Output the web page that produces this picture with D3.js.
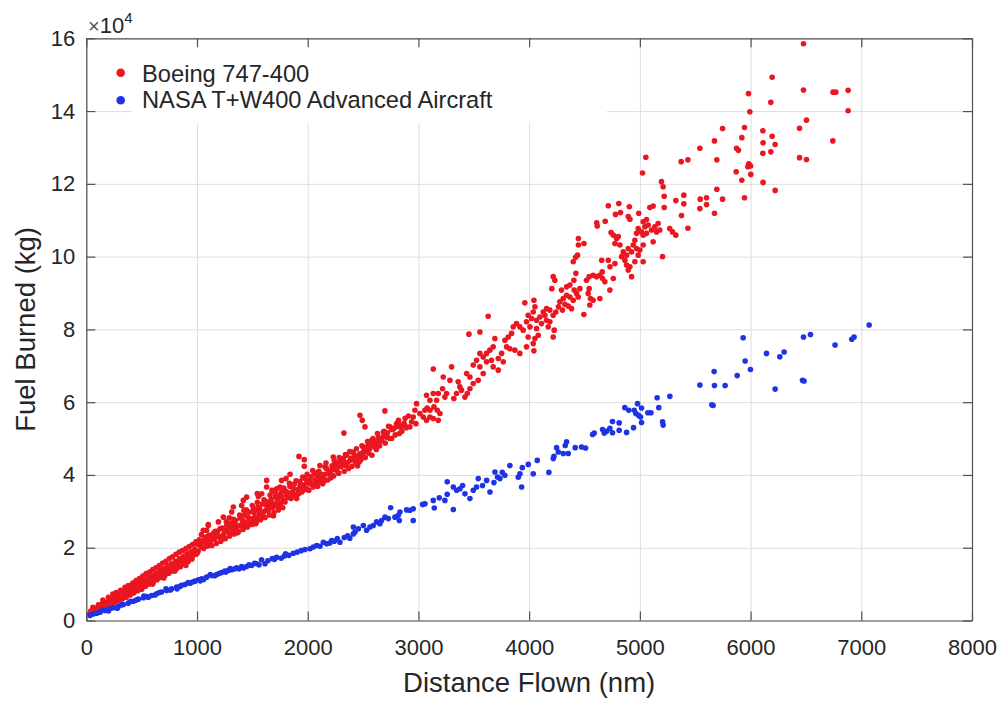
<!DOCTYPE html>
<html>
<head>
<meta charset="utf-8">
<script src="https://cdn.jsdelivr.net/npm/d3@7"></script>
<style>
  body { margin: 0; background: #fff; }
  text { font-family: "Liberation Sans", Arial, Helvetica, sans-serif; fill: #262626; }
  .grid line { stroke: #dedede; stroke-width: 1; }
  .grid path { display: none; }
  .axis path, .axis line { stroke: #505050; stroke-width: 1.2; }
</style>
</head>
<body>
<div id="chart"></div>
<script>
// series names and colours
const seriesNames = ["Boeing 747-400", "NASA T+W400 Advanced Aircraft"];
const seriesColors = ["#ea1620", "#1d33e4"];

// axis ticks
const xTicks = [0, 1000, 2000, 3000, 4000, 5000, 6000, 7000, 8000];
const xTickLabels = ["0", "1000", "2000", "3000", "4000", "5000", "6000", "7000", "8000"];
const yTicks = [0, 20000, 40000, 60000, 80000, 100000, 120000, 140000, 160000];
const yTickLabels = ["0", "2", "4", "6", "8", "10", "12", "14", "16"];

// Boeing 747-400: [distance nm, fuel kg]
const boeing747 = [
  // long flights
  [6478,158500],[6195,149300],[5981,144800],[6478,145800],[6745,145200],[6770,145200],[6881,145700],[6183,142400],
  [5993,139800],[6881,140100],[6505,137500],[6442,135300],[5747,135200],[5945,135500],[6111,134600],[5921,132700],
  [6195,133100],[5674,131800],[6743,131800],[6113,131300],[6222,130800],[5542,129800],[5873,129800],[5890,129200],
  [6183,128800],[6111,128400],[5054,127300],[6442,127200],[6505,126700],[5373,126100],[5434,126600],[5695,126600],
  [5984,125500],[6000,124900],[5975,124700],[5024,123000],[5870,123300],[6002,122600],[5921,121000],[6113,120400],
  [6222,118200],[5695,118500],[5397,116900],[5397,114500],[5545,115800],[5602,116200],[5747,115800],[5945,116200],
  [5542,113200],[5602,114300],[5674,111900],[5376,111300],[5434,107800],
  // 2700 - 5400 nm
  [5195,120600],[5210,119200],[5220,116600],[5220,113500],[5325,115400],[4715,114000],[4810,114600],[4905,113700],
  [4780,111600],[4825,112100],[4895,111000],[4910,110300],[4990,111900],[5060,110200],[5090,113500],[5120,113900],
  [5045,108200],[5015,106800],[4985,107700],[4970,106400],[5030,109600],[5075,108700],[5105,107300],[5135,108200],
  [5165,109100],[5150,106800],[5180,107300],[5120,104100],[5030,105900],[5060,106400],[4610,109300],[4615,108400],
  [4687,109700],[4740,106600],[4760,105900],[4790,105000],[4805,105500],[4775,103600],[4820,103200],[4850,101300],
  [4835,100000],[4880,100400],[4865,99000],[4895,102200],[4925,101300],[4940,103200],[4955,104500],[4970,102200],
  [4985,100400],[5000,101800],[5030,103200],[5030,98600],[4955,98600],[4910,97200],[4895,96300],[4925,94500],
  [4880,97700],[4715,99000],[4730,97200],[4655,99000],[4775,98100],[4760,94000],[5205,100000],[5270,107700],
  [5295,106800],[5325,105900],[4445,105000],[4495,103600],[4445,103200],[4437,100400],[4420,99800],[4398,98600],
  [4422,95400],[4404,93500],[4217,94500],[4232,93500],[4205,91200],[4292,90800],[4338,91700],[4368,92200],
  [4407,90800],[4428,89900],[4458,91200],[4443,88900],[4398,88000],[4368,88900],[4338,89400],[4308,88500],
  [4277,87600],[4323,86900],[4353,86400],[4383,85700],[4301,85300],[4265,86200],[4241,84800],[4217,83900],
  [4187,85300],[4157,85700],[4127,84800],[4142,83900],[4097,83400],[4067,82500],[4157,82500],[4187,82100],
  [4226,79800],[4217,77900],[4172,80700],[4112,81600],[4518,93500],[4542,94500],[4578,94900],[4609,94500],
  [4639,94900],[4663,94000],[4684,93100],[4729,90800],[4542,91200],[4533,89900],[4554,88500],[4578,88000],
  [4548,86700],[4494,84100],[4639,88500],[4660,95800],[3961,87300],[4043,88000],[4052,86200],[4037,84800],
  [3991,83900],[4022,83000],[3976,82100],[4007,80700],[4067,80200],[4082,78400],[4052,77500],[4037,76100],
  [3991,77900],[3946,79800],[3916,80700],[3886,81600],[3856,80700],[3841,78900],[3811,77900],[3781,77000],
  [3796,75200],[3826,74700],[3871,74300],[3916,73400],[3976,75200],[4043,74100],[3630,83600],[3456,78700],
  [3555,79300],[3690,77500],[3675,75200],[3645,74300],[3615,73400],[3585,72400],[3615,71100],[3660,71500],
  [3721,72000],[3751,73400],[3766,71100],[3721,68800],[3675,69700],[3555,73400],[3525,71500],[3495,70200],
  [3555,69700],[3585,67900],[3540,66000],[3495,65100],[3465,66900],[3435,67900],[3465,63700],[3441,62400],
  [3420,61400],[3389,63300],[3374,64200],[3359,65600],[3344,62400],[3320,61000],[3299,69700],[3284,66000],
  [3254,62400],[3239,61400],[3224,66900],[3218,63700],[3179,62400],[3164,60500],[3134,69100],[3134,62400],
  [3104,60500],[3073,61900],[3058,57800],[3043,55900],[3079,58400],[3104,57800],[3140,58700],[3170,57800],
  [3194,56900],[3179,55000],[3134,55500],[3104,55900],[3073,55000],[3013,56900],[2983,59600],[2968,57800],
  [2953,55900],[2938,54600],[2977,54100],[2923,53200],[2878,53600],[2833,53200],[2803,54100],[2772,52700],
  [2742,53200],[2697,57600],
  // 1000 - 2900 nm
  [2472,56400],[2493,55000],[2517,53200],[2327,51500],[2818,54100],[2827,51400],[2773,52700],[2758,50000],
  [2713,50900],[2683,51800],[2667,49500],[2622,49100],[2607,47700],[2577,49500],[2547,48100],[2532,46800],
  [2502,47700],[2487,45400],[2466,43600],[2442,44500],[2412,46300],[2382,44000],[2351,45400],[2339,42600],
  [2321,44500],[2291,43600],[2261,41300],[2243,42600],[2231,44900],[2216,41300],[2186,40300],[2156,42200],
  [2141,39400],[2111,38100],[2081,39900],[2065,38500],[2050,36700],[2020,37600],[2005,38500],[1990,36200],
  [1960,35800],[1930,36700],[1918,34800],[1900,33500],[1870,34800],[1840,33900],[1810,34400],[1780,33000],
  [1764,35300],[1734,33900],[1713,32100],[1689,31200],[1665,32600],[1644,30300],[1629,31600],[1599,29800],
  [1584,28400],[1554,30300],[1539,28000],[1509,27100],[1479,28000],[1448,26600],[1418,25700],[1388,26100],
  [1358,24800],[1328,25700],[1298,23800],[1268,24800],[1238,23400],[1208,22900],[1178,23800],[1147,22500],
  [1117,23400],[1087,22500],[1921,45100],[1969,44200],[1969,42400],[1840,40200],[1804,39000],[1764,38500],
  [1629,38500],[1749,36700],[1719,36200],[1584,34800],[1554,34100],[1448,33900],[1418,33000],[1403,31600],
  [1328,31200],[1313,29800],[1238,28400],[1193,27100],[1102,26100],[1087,24800],
  [1800,35500],[1820,33800],[1840,36800],[1860,35200],[1880,37500],[1890,34400],[1910,36000],[1930,38200],
  [1945,35300],[1960,37200],[1975,39000],[1990,37800],[2010,35800],[2030,39500],[2040,37300],[2060,40500],
  [2075,38000],[2090,36900],[2100,41000],[2120,39200],[2135,37600],[2150,40200],[2170,41800],[2180,38600],
  [2200,40600],[2220,42500],[2235,39800],[2250,41500],[2270,43200],[2280,40500],[2300,42300],[2320,44000],
  [2330,41000],[2350,43000],[2370,41800],[2390,44600],[2400,42400],[2420,45500],[2430,43500],[2450,42500],
  [2470,45800],[2480,44200],[2500,46200],[2520,44800],[2530,47500],[2550,46000],[2570,48400],[2580,45400],
  [2600,49200],[2620,47000],[2640,50200],[2650,48000],[2680,50500],[2700,48800],[2720,51600],[2740,50000],
  [2760,52500],[2790,51000],[2800,53300],[2850,52000],[2870,54200],[2890,53000],
  [1020,20800],[1040,23600],[1065,21700],[1090,23100],[1110,20800],[1140,22600],[1165,24500],[1180,23200],
  [1210,25300],[1225,22600],[1250,24800],[1265,27100],[1290,25600],[1305,24000],[1330,27800],[1345,26300],
  [1365,24100],[1385,29000],[1410,27600],[1425,25800],[1445,30400],[1460,28400],[1485,27000],[1500,31600],
  [1515,29600],[1530,26600],[1545,32500],[1565,30800],[1580,28900],[1605,33200],[1620,30200],[1640,31700],
  [1660,34500],[1675,32200],[1690,28800],[1705,35200],[1725,33100],[1740,31400],[1765,34000],[1785,36400],
  [1795,32600],[1815,35200],[1835,37700],[1850,33500],[1875,36200],[1895,38400],[1915,34800],[1935,37300],
  [1955,39400],[1980,36100],[1995,40200],[2015,38300],[2045,41200],[2065,37600],[2085,39000],[2110,42600],
  [2125,40100],[2145,38200],[2165,43300],[2190,40800],[2210,39200],[2240,43900],[2260,41800],[2285,44800],
  [2310,42800],[2340,45600],[2360,43400],[2380,46400],[2410,44400],[2440,47200],[2460,45000],[2490,48000],
  [2510,46400],[2540,49200],[2560,47200],[2590,50000],[2610,48400],[2630,51400],[2660,49400],[2690,52000],
  [2710,50400],[2730,53400],[2780,52800],[2820,55000],[2840,53200],[2880,55600],[2910,56200],
  // short flights
  [1057,24800],[1102,26400],[1291,28200],[1424,30300],[1544,34900],[1629,36700],[1677,35800],
  [30,1800],[40,2600],[55,2100],[70,3000],[80,2300],[95,3400],[105,2700],[120,3900],[130,3000],[140,4500],
  [150,3500],[160,4100],[175,5000],[185,3900],[195,4600],[210,5600],[220,4300],[230,5100],[245,6300],[255,4900],
  [265,5700],[280,6900],[290,5400],[300,6200],[315,7400],[325,5900],[335,6700],[350,8000],[360,6400],[370,7300],
  [385,8600],[395,7000],[405,7900],[420,9300],[430,7600],[440,8500],[455,9900],[465,8200],[475,9100],[490,10500],
  [500,8800],[510,9700],[525,11100],[535,9400],[545,10300],[560,11800],[570,10000],[580,10900],[595,12400],
  [605,10600],[615,11500],[630,13000],[640,11200],[650,12100],[665,13700],[675,11800],[685,12700],[700,14300],
  [710,12400],[720,13300],[735,15000],[745,13000],[755,14000],[770,15600],[780,13600],[790,14600],[805,16300],
  [815,14200],[825,15200],[840,17000],[850,14800],[860,15900],[875,17600],[885,15500],[895,16500],[910,18300],
  [920,16200],[930,17200],[945,18900],[955,16900],[965,17900],[980,19600],[990,18200],[1000,21000],[1010,19000],
  [1020,22200],[1035,20200],[1045,21300],[1060,19800],[1070,22700],[1085,21000],[1095,20400],[1110,23400],
  [1120,21800],[1135,20600],[1150,24000],[1160,22400],[1175,21200],[1190,24600],[1200,23000],[1215,21800],
  [1230,25400],[1240,23600],[1255,22500],[1270,26200],[1280,24300],[1295,23200],[1310,26800],[1320,25000],
  [1335,23800],[1350,27500],[1360,25600],[1375,24400],[1390,28200],[1400,26300],[1415,25000],[1430,29000],
  [1440,27000],[1455,25700],[1470,29800],[1480,27600],[1495,26400],[1510,30500],[1520,28300],[1535,27000],
  [1550,31200],[1560,29000],[1575,27700],[1590,32000],[1600,29700],[1615,28300],[1630,32600],[1640,30400],
  [1655,29000],[1670,33300],[1680,31000],[1695,29700],[1710,34000],[1720,31700],[1735,30400],[1750,34600],
  [1760,32400],[1775,31000],
  [60,3600],[110,4300],[150,5600],[200,6400],[240,7300],[270,7700],[310,8300],[350,9100],[380,9600],[420,10300],
  [450,11000],[480,11500],[510,12200],[540,12900],[570,13300],[600,14000],[630,14500],[660,15100],[690,15800],
  [720,16300],[750,17000],[780,17500],[810,18200],[840,18800],[870,19200],[900,19800],[930,20300],[960,20900],
  [990,21600],[90,2900],[135,3800],[180,4700],[225,5500],[270,6300],[320,6900],[365,7900],[410,8600],[460,9400],
  [505,10200],[555,11200],[600,11900],[650,12800],[695,13500],[740,14400],[790,15200],[830,16000],[880,16700],
  [925,17600],[970,18600],[100,2400],[200,4200],[300,5700],[400,7200],[500,8600],[600,10000],[700,11700],
  [800,13600],[900,15100],[1000,18400]
];

// NASA T+W400: [distance nm, fuel kg]
const nasaTW400 = [
  [33,1400],[63,1800],[94,2000],[124,2300],[169,2750],[214,3200],[244,3500],[289,3850],[334,4400],[379,4770],
  [425,5300],[470,5870],[515,6240],[545,6600],[590,6880],[635,7340],[680,7800],[726,8250],[771,8700],[816,9170],
  [846,9350],[891,9900],[936,10270],[981,10820],[1012,11190],[1042,11460],[1087,11920],[1132,12380],[1177,12650],
  [1222,13200],[1252,13570],[1282,13750],[1313,13940],[1358,14490],[1403,14850],[1448,14850],[1493,15130],
  [1538,15600],[1583,16700],[1614,15600],[1719,17400],
  [200,2600],[320,4300],[450,5600],[560,6400],[660,7700],[760,8400],[860,9700],[960,10600],[1060,11300],
  [1160,12300],[1260,13300],[1340,14200],[1420,14400],[1520,15700],[1640,16400],[1700,16800],
  [150,2900],[280,3400],[400,5300],[520,6700],[620,7000],[720,8700],[820,8700],[920,10400],[1030,10900],
  [1120,12600],[1200,12900],[1300,14300],[1380,14200],[1470,15300],[1560,15300],[1680,17000],
  [1760,17100],[1790,17700],[1830,17900],[1870,18500],[1905,18800],[1940,19200],[1975,19500],[1800,18300],
  [2020,19700],[2050,20200],[2081,20600],[2111,20400],[2141,21500],[2171,21100],[2216,22000],[2267,22500],
  [2200,21300],[2240,21800],[2330,22800],[2360,23300],[2380,22600],
  [2291,21500],[2412,25700],[2412,23800],[2427,24300],[2457,25200],[2502,26100],[2532,24800],[2562,25700],
  [2592,26100],[2622,27100],[2652,26600],[2667,27500],[2698,28400],[2728,28000],[2749,31000],[2788,28400],
  [2827,27500],[2818,28900],[2833,29800],[2893,30400],[2923,30300],[2953,30700],[2953,27500],[3038,31900],
  [3059,32100],[3143,30900],[3134,33000],[3188,33700],[3239,33000],[3260,34700],[3260,38100],[3315,36700],
  [3315,30500],[3345,35800],[3375,36200],[3399,37100],[3420,34800],[3465,33500],[3495,35800],[3525,36700],
  [3540,39000],[3579,37100],[3616,38500],[3646,35300],[3682,37900],[3691,40800],[3715,39400],[3736,39000],
  [3757,40700],[3781,39900],[3826,42600],[3902,39400],[3932,36700],[3917,40300],[3938,42000],[3992,42900],
  [4037,40300],[4073,44000],[4178,40700],[4218,44500],[4224,45100],[4248,47500],[4263,46300],[4308,45900],
  [4353,45900],[4326,48100],[4338,49100],[4416,47500],[4473,47700],[4510,47400],[4573,51100],[4588,51500],
  [4663,52500],[4699,52000],[4729,52800],[4678,51500],[4753,51600],[4753,54700],[4813,54300],[4943,53000],
  [4880,51700],[4813,52300],[4864,58500],[4900,57800],[4949,57800],[4964,56900],[4988,56400],[5006,55900],
  [4979,59600],[5015,58400],[5072,57100],[5100,57100],[5015,54400],[5205,54600],[5210,53700],[5171,58500],
  [5156,61200],[5271,61600],[5650,59300],[5662,59100],[5542,64700],[5674,64600],[5770,64600],[5671,68400],
  [5879,67300],[5999,69000],[5951,71300],[5933,77700],[6144,73400],[6264,72500],[6303,73800],[6222,63600],
  [6469,66000],[6483,65800],[6478,77900],[6541,78600],[6763,75700],[6914,77300],[6935,77900],[7071,81200]
];

function drawChart() {
  const margin = { top: 38.3, right: 32, bottom: 81.5, left: 86.3 };
  const width = 1004 - margin.left - margin.right;
  const height = 702 - margin.top - margin.bottom;

  const svg = d3.select("#chart").append("svg")
    .attr("width", 1004)
    .attr("height", 702);

  const g = svg.append("g")
    .attr("transform", `translate(${margin.left},${margin.top})`);

  const x = d3.scaleLinear().domain([0, 8000]).range([0, width]);
  const y = d3.scaleLinear().domain([0, 160000]).range([height, 0]);

  // grid
  g.append("g").attr("class", "grid")
    .call(d3.axisBottom(x).tickValues(xTicks).tickSize(height).tickFormat(""));
  g.append("g").attr("class", "grid")
    .call(d3.axisLeft(y).tickValues(yTicks).tickSize(-width).tickFormat(""));

  // legend background hides the grid under it
  g.append("rect").attr("x", 132 - margin.left).attr("y", 1).attr("width", 475).attr("height", 84).attr("fill", "#fff");
  g.append("rect").attr("x", 2).attr("y", 1).attr("width", 132 - margin.left).attr("height", 68).attr("fill", "#fff");

  // points
  [boeing747, nasaTW400].forEach((pts, i) => {
    g.append("g").selectAll("circle")
      .data(pts)
      .enter().append("circle")
      .attr("cx", d => x(d[0]))
      .attr("cy", d => y(d[1]))
      .attr("r", 2.8)
      .attr("fill", seriesColors[i]);
  });

  // axes with inward ticks
  const xAxis = g.append("g").attr("class", "axis")
    .attr("transform", `translate(0,${height})`)
    .call(d3.axisBottom(x).tickValues(xTicks).tickFormat((d, i) => xTickLabels[i])
      .tickSizeInner(-9).tickSizeOuter(0).tickPadding(19));
  xAxis.selectAll("text").style("font-size", "22px");

  const yAxis = g.append("g").attr("class", "axis")
    .call(d3.axisLeft(y).tickValues(yTicks).tickFormat((d, i) => yTickLabels[i])
      .tickSizeInner(-9).tickSizeOuter(0).tickPadding(11));
  yAxis.selectAll("text").style("font-size", "22px");

  g.append("g").attr("class", "axis")
    .call(d3.axisTop(x).tickValues(xTicks).tickFormat("").tickSizeInner(-9).tickSizeOuter(0));
  g.append("g").attr("class", "axis")
    .attr("transform", `translate(${width},0)`)
    .call(d3.axisRight(y).tickValues(yTicks).tickFormat("").tickSizeInner(-9).tickSizeOuter(0));
  g.selectAll(".axis .tick text").attr("fill", "#262626");

  // exponent
  const expo = svg.append("text").attr("x", 88).attr("y", 33);
  expo.append("tspan").style("font-size", "20px").attr("fill", "#555").text("×");
  expo.append("tspan").style("font-size", "22px").text("10");
  expo.append("tspan").style("font-size", "15px").attr("dy", -10).text("4");

  // axis titles
  svg.append("text")
    .attr("x", margin.left + width / 2)
    .attr("y", 691.5)
    .attr("text-anchor", "middle")
    .style("font-size", "27.5px")
    .text("Distance Flown (nm)");

  svg.append("text")
    .attr("transform", `translate(35,${margin.top + height / 2}) rotate(-90)`)
    .attr("text-anchor", "middle")
    .style("font-size", "27.5px")
    .text("Fuel Burned (kg)");

  // legend
  const legend = svg.append("g");
  seriesNames.forEach((name, i) => {
    legend.append("circle")
      .attr("cx", 120.7)
      .attr("cy", 72.7 + i * 27.5)
      .attr("r", 4.3)
      .attr("fill", seriesColors[i]);
    legend.append("text")
      .attr("x", 142)
      .attr("y", 81.7 + i * 26)
      .style("font-size", "23.7px")
      .text(name);
  });
}

drawChart();
</script>
</body>
</html>
